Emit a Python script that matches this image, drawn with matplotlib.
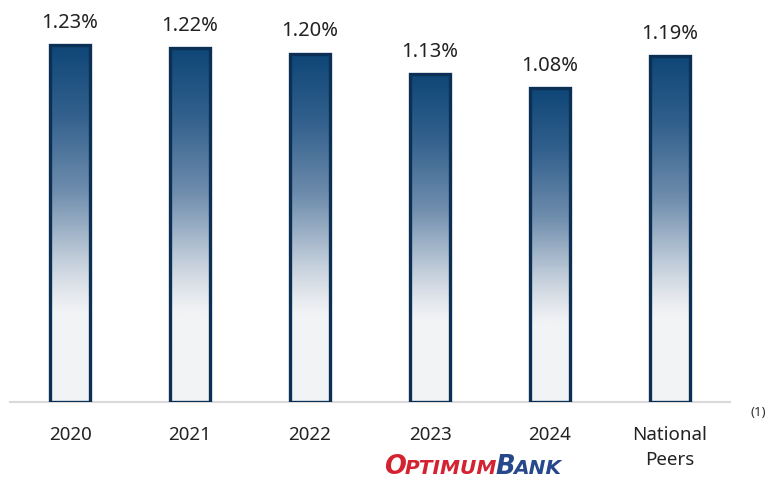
import matplotlib
matplotlib.use("Agg")
import matplotlib.pyplot as plt
import numpy as np
from matplotlib.colors import LinearSegmentedColormap
from matplotlib.patches import Rectangle

## Data
categories = ["2020", "2021", "2022", "2023", "2024", "National\nPeers"]
values = [1.23, 1.22, 1.20, 1.13, 1.08, 1.19]
value_labels = ["1.23%", "1.22%", "1.20%", "1.13%", "1.08%", "1.19%"]

## Style
dark = "#0e4677"
light = "#f2f3f5"
edge = "#0c2f55"
bar_w = 0.33
plt.rcParams['font.family'] = ['Noto Sans', 'DejaVu Sans']

fig = plt.figure(figsize=(7.69, 4.79), dpi=100)
ax = fig.add_axes([10/769, 77/479, 720/769, 392/479])

## gradient: dark at top -> light at ~74% down, then flat light
cmap = LinearSegmentedColormap.from_list(
    "grad", [(0, light), (0.25, light), (0.31, "#e2e6ec"), (0.39, "#c5d0dc"),
             (0.59, "#6f8dad"), (0.80, "#33618d"), (1, dark)])
grad = np.linspace(0, 1, 256).reshape(-1, 1)

x = np.arange(len(categories))
for xi, v, lab in zip(x, values, value_labels):
    im = ax.imshow(grad, cmap=cmap, origin="lower", aspect="auto",
                   extent=(xi - bar_w/2, xi + bar_w/2, 0, v), zorder=2)
    rect = Rectangle((xi - bar_w/2, 0), bar_w, v, facecolor="none",
                     edgecolor=edge, linewidth=2.4, zorder=3)
    ax.add_patch(rect)
    im.set_clip_path(rect)
    ax.text(xi, v + 0.042, lab, ha="center", va="bottom", fontsize=14.5, color="#222222")

ax.set_xlim(-0.5, 5.5)
ax.set_ylim(0, 1.35)
ax.set_xticks(x)
ax.set_xticklabels(categories, fontsize=13.5, color="#222222", linespacing=1.55)
ax.tick_params(axis="x", length=0, pad=17)
ax.set_yticks([])
for s in ["top", "right", "left"]:
    ax.spines[s].set_visible(False)
ax.spines["bottom"].set_color("#d9d9d9")
ax.spines["bottom"].set_linewidth(1.5)
ax.spines["bottom"].set_zorder(1)

## footnote marker
fig.text(758/769, 1 - 412/479, "(1)", fontsize=9.5, color="#333333", ha="center", va="center")

## OptimumBank logo as text, pieces placed one after another
red = "#d42231"
blue = "#27498c"
logo = dict(family="DejaVu Sans", fontweight="bold", style="italic", va="baseline", ha="left")
pieces = [("O", 18.5, red), ("PTIMUM", 14.5, red), ("B", 18.5, blue), ("ANK", 14.5, blue)]
renderer = fig.canvas.get_renderer()
xpos = 384
base = 1 - 474/479
for txt, size, col in pieces:
    t = fig.text(xpos/769, base, txt, fontsize=size, color=col, **logo)
    xpos = t.get_window_extent(renderer).x1 - 1.5

fig.savefig("out.png", dpi=100)
